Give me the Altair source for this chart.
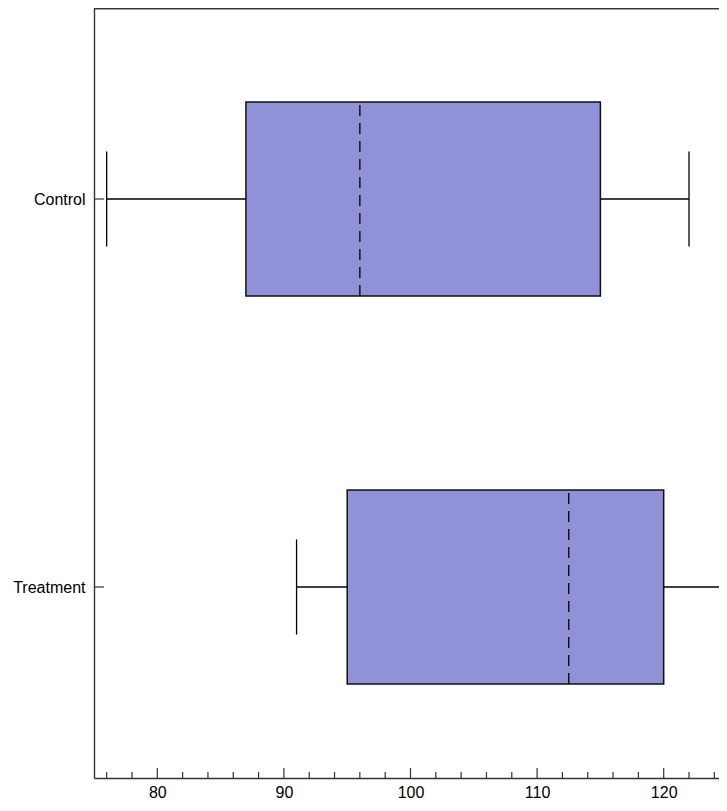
import json
import altair as alt
import pandas as pd

# ---- data ----
categories = ["Control", "Treatment"]
whisker_low = [76, 91]
q1 = [87, 95]
median = [96, 112.5]
q3 = [115, 120]
whisker_high = [122, 125]

major_ticks = [80, 90, 100, 110, 120]
minor_ticks = [76, 78, 82, 84, 86, 88, 92, 94, 96, 98, 102, 104, 106, 108,
               112, 114, 116, 118, 122, 124]

# ---- style / layout ----
FONT = "Liberation Sans"
FS = 16
BOX_FILL = "#9191d7"
FRAME = "#333333"
W, H = 625, 770
PX_PER_UNIT = 633 / 50
x_domain = [75, 75 + W / PX_PER_UNIT]
BOX_HALF = 0.25
CAP_HALF = 0.1225
n = len(categories)
y_domain = [3 / 388, n - 3 / 388]

df = pd.DataFrame({
    "cat": categories,
    "lo": whisker_low,
    "q1": q1,
    "med": median,
    "q3": q3,
    "hi": whisker_high,
})
df["pos"] = [n - i - 0.5 for i in range(n)]

xs = alt.Scale(domain=x_domain, nice=False, zero=False)
ys = alt.Scale(domain=y_domain, nice=False, zero=False)

label_expr = f"{json.dumps(categories)}[round({n} - 0.5 - datum.value)]"

base = alt.Chart(df).transform_calculate(
    b0=f"datum.pos - {BOX_HALF}",
    b1=f"datum.pos + {BOX_HALF}",
    c0=f"datum.pos - {CAP_HALF}",
    c1=f"datum.pos + {CAP_HALF}",
)

x_axis = alt.Axis(values=major_ticks, ticks=False, grid=False, domain=True,
                  domainColor=FRAME, domainWidth=1.4,
                  labelFont=FONT, labelFontSize=FS, labelColor="black",
                  labelPadding=6, title=None, tickSize=0)
y_axis = alt.Axis(values=list(df["pos"]), labelExpr=label_expr, ticks=False,
                  grid=False, domain=True, domainColor=FRAME, domainWidth=1.4,
                  labelFont=FONT, labelFontSize=FS,
                  labelColor="black", labelPadding=9, title=None, tickSize=0)

boxes = base.mark_bar(fill=BOX_FILL, stroke="#111", strokeWidth=1.5).encode(
    x=alt.X("q1:Q", scale=xs, axis=x_axis),
    x2="q3:Q",
    y=alt.Y("b0:Q", scale=ys, axis=y_axis),
    y2="b1:Q",
)

LW = 1.3
wl = base.mark_rule(color="black", strokeWidth=LW).encode(
    x=alt.X("lo:Q", scale=xs), x2="q1:Q", y=alt.Y("pos:Q", scale=ys))
wh = base.mark_rule(color="black", strokeWidth=LW, clip=False).encode(
    x=alt.X("q3:Q", scale=xs), x2="hi:Q", y=alt.Y("pos:Q", scale=ys))
cl = base.mark_rule(color="black", strokeWidth=LW).encode(
    x=alt.X("lo:Q", scale=xs), y=alt.Y("c0:Q", scale=ys), y2="c1:Q")
ch = base.mark_rule(color="black", strokeWidth=LW, clip=False).encode(
    x=alt.X("hi:Q", scale=xs), y=alt.Y("c0:Q", scale=ys), y2="c1:Q")
med = base.mark_rule(color="black", strokeWidth=LW, strokeDash=[11, 7]).encode(
    x=alt.X("med:Q", scale=xs), y=alt.Y("b0:Q", scale=ys), y2="b1:Q")

xt_major = alt.Chart(pd.DataFrame({"v": major_ticks})).mark_rule(
    color=FRAME, strokeWidth=1.2).encode(
    x=alt.X("v:Q", scale=xs), y=alt.value(H), y2=alt.value(H - 10))
xt_minor = alt.Chart(pd.DataFrame({"v": minor_ticks})).mark_rule(
    color=FRAME, strokeWidth=1.2).encode(
    x=alt.X("v:Q", scale=xs), y=alt.value(H), y2=alt.value(H - 6))
yt = alt.Chart(df).mark_rule(color=FRAME, strokeWidth=1.2).encode(
    y=alt.Y("pos:Q", scale=ys), x=alt.value(0), x2=alt.value(10))

top_line = alt.Chart(df).mark_rule(color=FRAME, strokeWidth=1.6).encode(
    x=alt.value(0), x2=alt.value(W), y=alt.value(0.5))

chart = alt.layer(boxes, wl, wh, cl, ch, med, xt_major, xt_minor, yt,
                  top_line).properties(
    width=W, height=H,
    autosize="none",
    padding={"left": 86, "top": 0, "right": 0, "bottom": 25},
).configure_view(
    stroke=None
).configure(background="white")

chart.save("out.html", embed_options={"renderer": "svg", "actions": False})
